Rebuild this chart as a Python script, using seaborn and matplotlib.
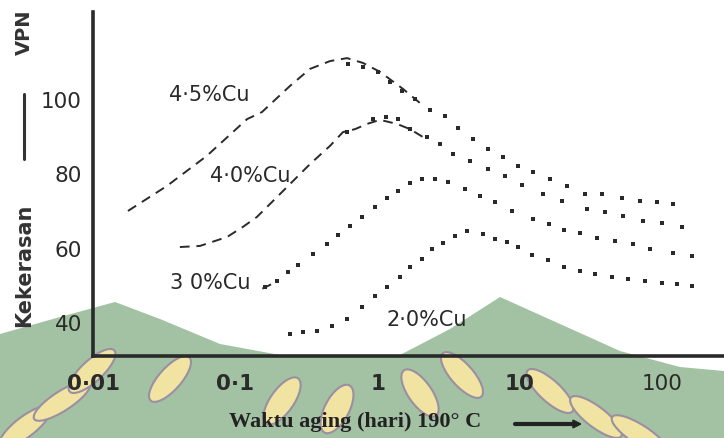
import numpy as np
import pandas as pd
import matplotlib
matplotlib.use("Agg")
import matplotlib.pyplot as plt
import seaborn as sns
from matplotlib.patches import Polygon, Ellipse
from matplotlib.lines import Line2D

# Kekerasan (VPN) vs waktu aging (hari) pada 190 C
# 4.5 % Cu
hari_45_garis = [0.0176, 0.033, 0.063, 0.121, 0.154, 0.242, 0.335, 0.463, 0.61, 0.79, 1.04, 1.51, 1.99]
vpn_45_garis = [69.9, 76.6, 84.7, 94.6, 96.5, 103.5, 108.1, 110.2, 111.0, 109.7, 107.3, 102.7, 98.9]
hari_45_titik = [0.62, 0.79, 1.01, 1.22, 1.48, 1.83, 2.34, 2.98, 3.67, 4.68, 5.97, 7.6, 9.7,
                 12.4, 16.3, 21.4, 28.7, 37.8, 52.2, 69.9, 91.9, 119]
vpn_45_titik = [109.4, 108.6, 107.3, 104.6, 102.2, 100.0, 97.0, 95.4, 92.2, 89.2, 86.5, 84.4, 82.0,
                80.4, 78.5, 76.6, 74.4, 74.4, 73.4, 72.6, 72.3, 71.8]

# 4.0 % Cu
hari_40_garis = [0.0408, 0.0565, 0.0875, 0.113, 0.142, 0.19, 0.335, 0.463, 0.571, 0.694, 0.843, 1.04, 1.37, 1.69, 2.08]
vpn_40_garis = [60.2, 60.5, 62.9, 65.6, 68.3, 73.1, 82.5, 87.4, 91.1, 91.9, 93.3, 94.4, 93.3, 91.9, 89.8]
hari_40_titik = [0.61, 0.93, 1.15, 1.39, 1.69, 2.22, 2.75, 3.39, 4.46, 5.97, 7.86, 10.3, 14.5,
                 19.8, 29.6, 39.6, 53.1, 73.3, 99.7, 138]
vpn_40_titik = [91.1, 94.6, 95.2, 94.6, 91.9, 89.8, 87.9, 85.2, 83.3, 81.2, 79.3, 76.9, 74.4,
                72.6, 70.4, 69.6, 68.5, 67.2, 66.6, 65.6]

# 3.0 % Cu
hari_30_garis = [0.155, 0.175, 0.2]
vpn_30_garis = [49.0, 50.0, 51.4]
hari_30_titik = [0.162, 0.196, 0.235, 0.276, 0.352, 0.441, 0.527, 0.64, 0.777, 0.959, 1.16, 1.39, 1.69,
                 2.05, 2.53, 3.13, 4.11, 5.25, 6.69, 8.8, 12.4, 16.0, 20.4, 26.4, 34.8, 46.6, 62.4,
                 82.1, 119, 162]
vpn_30_titik = [49.4, 51.0, 53.5, 55.3, 58.3, 61.0, 63.4, 65.8, 68.3, 70.9, 73.4, 75.2, 77.4,
                78.5, 78.5, 77.7, 75.8, 73.9, 72.3, 69.9, 67.7, 66.4, 64.8, 63.9, 62.6, 61.8, 61.0,
                59.6, 58.6, 57.8]

# 2.0 % Cu
hari_20_titik = [0.242, 0.299, 0.375, 0.478, 0.61, 0.777, 0.959, 1.16, 1.44, 1.69, 2.05, 2.41, 2.88,
                 3.5, 4.25, 5.51, 6.69, 8.11, 9.7, 12.2, 15.8, 20.4, 26.4, 33.7, 44.4, 57.5, 75.7,
                 99.7, 127, 162]
vpn_20_titik = [36.8, 37.3, 37.6, 38.9, 40.8, 44.0, 47.0, 49.4, 52.1, 54.8, 57.0, 59.6, 61.3,
                63.1, 64.5, 63.7, 62.3, 61.5, 60.2, 58.0, 56.7, 54.8, 53.7, 52.9, 52.1, 51.6, 51.0,
                50.5, 50.2, 49.7]

label_kurva = ["4·5%Cu", "4·0%Cu", "3 0%Cu", "2·0%Cu"]
label_pos = [(0.0653, 101.3), (0.127, 79.6), (0.0664, 50.8), (2.22, 40.8)]

xticks = [0.01, 0.1, 1, 10, 100]
xticklabels = ["0·01", "0·1", "1", "10", "100"]
yticks = [40, 60, 80, 100]

W, H = 724, 439
tinta = "#2a2a2a"

sns.set_style("white")
plt.rcParams["font.family"] = ["DejaVu Sans"]

fig = plt.figure(figsize=(W / 100, H / 100), dpi=100)


def fpx(x, y):
    return (x / W, 1 - y / H)


# watermark hijau di latar belakang
poly = [(0, 439), (0, 335), (60, 318), (115, 303), (160, 320), (220, 345), (280, 356), (400, 356),
        (450, 330), (500, 298), (560, 325), (620, 352), (680, 368), (724, 372), (724, 439)]
fig.patches.append(Polygon([fpx(*p) for p in poly], closed=True, transform=fig.transFigure,
                           facecolor="#a3c2a3", edgecolor="none", zorder=-2))
daun = [(25, 428, -35), (62, 402, -40), (92, 372, -30), (170, 380, -25), (282, 402, -20),
        (337, 410, -15), (420, 394, 20), (462, 376, 25), (550, 392, 30), (596, 418, 35), (640, 436, 40)]
for (cx, cy, ang) in daun:
    c = fpx(cx, cy)
    fig.patches.append(Ellipse(c, 26 / W, 50 / H, angle=ang, transform=fig.transFigure,
                               facecolor="#f1e3a2", edgecolor="#9b8fa2", lw=1.5, zorder=-1))

ax = fig.add_axes([93 / W, 1 - 357 / H, 1 - 93 / W, (357 - 13) / H])
ax.patch.set_alpha(0)

garis = [(hari_45_garis, vpn_45_garis), (hari_40_garis, vpn_40_garis), (hari_30_garis, vpn_30_garis)]
for hx, vy in garis:
    df = pd.DataFrame({"hari": hx, "vpn": vy})
    sns.lineplot(data=df, x="hari", y="vpn", ax=ax, color=tinta, lw=1.4,
                 linestyle=(0, (5, 3.5)), estimator=None)

titik = [(hari_45_titik, vpn_45_titik), (hari_40_titik, vpn_40_titik),
         (hari_30_titik, vpn_30_titik), (hari_20_titik, vpn_20_titik)]
for hx, vy in titik:
    df = pd.DataFrame({"hari": hx, "vpn": vy})
    sns.scatterplot(data=df, x="hari", y="vpn", ax=ax, color=tinta, marker="s", s=11,
                    linewidth=0)

for teks, (lx, ly) in zip(label_kurva, label_pos):
    ax.text(lx, ly, teks, fontsize=15, color=tinta, ha="center", va="center")

ax.set_xscale("log")
ax.set_xlim(0.01, 272)
ax.set_ylim(30.9, 123.4)
ax.set_xticks(xticks)
ax.set_xticklabels(xticklabels, fontsize=15.5, fontweight="bold")
ax.get_xticklabels()[-1].set_fontweight("normal")
ax.xaxis.set_minor_locator(matplotlib.ticker.NullLocator())
ax.set_yticks(yticks)
ax.set_yticklabels([str(v) for v in yticks], fontsize=15.5)
ax.tick_params(axis="x", direction="in", length=8, width=1.6, pad=12, colors=tinta)
ax.tick_params(axis="y", direction="in", length=7, width=2.5, pad=8, colors=tinta)
ax.set_xlabel("")
ax.set_ylabel("")
sns.despine(ax=ax)
for s in ["left", "bottom"]:
    ax.spines[s].set_linewidth(2.6)
    ax.spines[s].set_color(tinta)

# label sumbu
fig.text(*fpx(355, 422), "Waktu aging (hari) 190° C", family="Liberation Serif",
         fontweight="bold", fontsize=16, ha="center", va="center", color="#222222")
fig.add_artist(Line2D([515 / W, 572 / W], [1 - 425 / H] * 2, color="#222222", lw=3))
ax.annotate("", xy=fpx(585, 425), xytext=fpx(560, 425), xycoords="figure fraction",
            textcoords="figure fraction",
            arrowprops=dict(arrowstyle="-|>", color="#222222", lw=1.5, mutation_scale=12))

fig.text(*fpx(24, 265), "Kekerasan", rotation=90, fontsize=15, fontweight="bold",
         ha="center", va="center", color="#333333")
fig.add_artist(Line2D([24 / W] * 2, [1 - 95 / H, 1 - 160 / H], color="#333333", lw=2.2))
fig.text(*fpx(24, 32), "VPN", rotation=90, fontsize=14, fontweight="bold",
         ha="center", va="center", color="#333333")

fig.savefig("out.png", dpi=100)
